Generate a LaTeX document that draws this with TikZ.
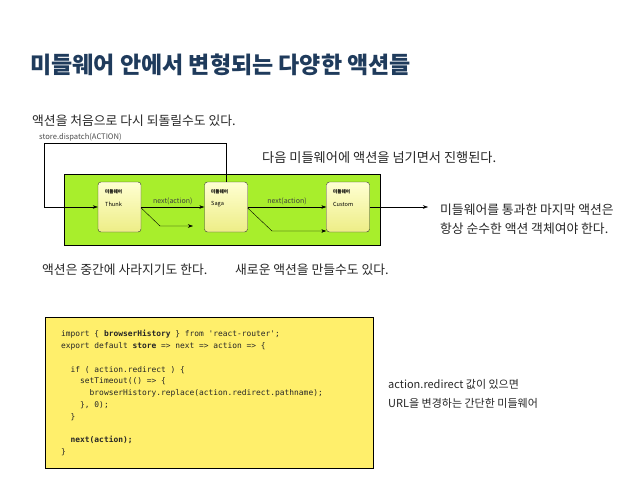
\documentclass[tikz,border=0pt]{standalone}
\usepackage{fontspec}
\setmainfont{Noto Sans CJK KR}
\setmonofont{DejaVu Sans Mono}
\usetikzlibrary{arrows.meta,shapes.misc}
\definecolor{titleblue}{HTML}{1F3B5C}
\definecolor{bodygray}{HTML}{262626}
\definecolor{stagegreen}{HTML}{A8EE2C}
\definecolor{mwtop}{HTML}{FFFFD2}
\definecolor{mwbottom}{HTML}{EDED86}
\definecolor{codeyellow}{HTML}{FFEF6B}
\begin{document}
\begin{tikzpicture}[
  x=1pt, y=-1pt,
  note/.style={font=\fontsize{12.8}{15}\selectfont, text=bodygray, anchor=west, inner sep=0pt},
  stage/.style={draw, chamfered rectangle, chamfered rectangle xsep=5pt, fill=stagegreen, minimum width=316pt, minimum height=71pt, inner sep=0pt},
  mwbox/.style={draw=black!80, rounded corners=3pt, top color=mwtop, bottom color=mwbottom, minimum width=43pt, minimum height=50pt, inner sep=0pt},
  mwtag/.style={font=\bfseries\fontsize{4.6}{5}\selectfont, anchor=west, inner sep=0pt},
  mwname/.style={font=\fontsize{5.6}{6}\selectfont, anchor=west, inner sep=0pt},
  flow/.style={font=\fontsize{7}{8}\selectfont, text=black!75, inner sep=1.5pt},
  arrow/.style={-{Stealth[length=5pt,width=3.5pt]}, thin}
]
\useasboundingbox (0,0) rectangle (638,479);

\node[anchor=west, inner sep=0pt, text=titleblue, font=\bfseries\fontsize{23}{26}\selectfont] (title) at (30,65) {미들웨어 안에서 변형되는 다양한 액션들};

\node[note] (rewind) at (32,121) {액션을 처음으로 다시 되돌릴수도 있다.};
\node[anchor=west, inner sep=0pt, font=\fontsize{7.6}{8}\selectfont, text=black!70] (dispatch) at (39,137) {store.dispatch(ACTION)};
\node[note, font=\fontsize{13.2}{15}\selectfont] (pass) at (262,158) {다음 미들웨어에 액션을 넘기면서 진행된다.};

% middleware chain
\node[stage] (chain) at (222,209.5) {};
\node[mwbox] (thunk) at (119.5,207) {};
\node[mwbox] (saga) at (226,207) {};
\node[mwbox] (custom) at (348,207) {};
\node[mwtag] (thunktag) at (105,192) {미들웨어};
\node[mwname] (thunkname) at (105,204) {Thunk};
\node[mwtag] (sagatag) at (211,192) {미들웨어};
\node[mwname] (saganame) at (211,204) {Saga};
\node[mwtag] (customtag) at (333,192) {미들웨어};
\node[mwname] (customname) at (333,204) {Custom};

\coordinate (loopright) at (226,143);
\coordinate (loopleft) at (44,143);
\coordinate (loopin) at (44,207);
\coordinate (dropbend) at (160,226);
\coordinate (dropend) at (193,226);
\coordinate (newbend) at (272,231);
\coordinate (exitend) at (428,207);

\draw[arrow] (saga.north) -- (loopright) -- (loopleft) -- (loopin) -- (thunk.west);
\draw[arrow] (thunk.east) -- node[flow, above] {next(action)} (saga.west);
\draw[arrow] ([yshift=-1pt]thunk.east) -- (dropbend) -- (dropend);
\draw[arrow] (saga.east) -- node[flow, above] {next(action)} (custom.west);
\draw[arrow] ([yshift=-1pt]saga.east) -- (newbend) -- (newbend -| custom.west);
\draw[arrow] (custom.east) -- (exitend);

\node[note, align=left, font=\fontsize{12.8}{19}\selectfont] (pure) at (440,219.5) {미들웨어를 통과한 마지막 액션은\\항상 순수한 액션 객체여야 한다.};
\node[note] (vanish) at (42,270) {액션은 중간에 사라지기도 한다.};
\node[note] (create) at (235,270) {새로운 액션을 만들수도 있다.};

% code sample
\node[draw, fill=codeyellow, minimum width=328pt, minimum height=151pt, inner sep=0pt] (codebox) at (209,392.5) {};
\node[anchor=north west, inner sep=0pt, align=left, font=\ttfamily\fontsize{7.9}{11.8}\selectfont, text=black!85] (code) at (61,330) {%
import \{ \textbf{browserHistory} \} from 'react-router';\\
export default \textbf{store} => next => action => \{\\
~\\
~~if ( action.redirect ) \{\\
~~~~setTimeout(() => \{\\
~~~~~~browserHistory.replace(action.redirect.pathname);\\
~~~~\}, 0);\\
~~\}\\
~\\
~~\textbf{next(action);}\\
\}};

\node[note, align=left, font=\fontsize{11}{18.5}\selectfont] (redirectnote) at (388,394) {action.redirect 값이 있으면\\URL을 변경하는 간단한 미들웨어};
\end{tikzpicture}
\end{document}
